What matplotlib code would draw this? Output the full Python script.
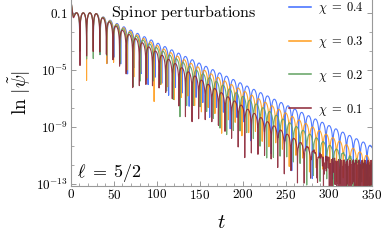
import numpy as np
import matplotlib
matplotlib.use("Agg")
import matplotlib.pyplot as plt
from matplotlib.ticker import FixedLocator, NullFormatter

plt.rcParams['mathtext.fontset'] = 'cm'
plt.rcParams['font.family'] = ['DejaVu Serif']

# quasinormal ringing, one entry per curve
chi = [0.4, 0.3, 0.2, 0.1]
omega = [0.395, 0.400, 0.405, 0.410]       # oscillation frequency
decay = [0.029, 0.0316, 0.034, 0.038]      # decades of |psi| lost per unit t
phase = [0.65, 0.55, 0.45, 0.35]
floor_level = [1e-13, 3e-13, 1.2e-12, 3e-12]  # numerical noise floor
colors = ['#3d6bff', '#ff9d1c', '#62a262', '#8c2636']

t_max = 350
ytick_vals = [1e-1, 1e-5, 1e-9, 1e-13]
ytick_text = [r'$0.1$', r'$10^{-5}$', r'$10^{-9}$', r'$10^{-13}$']
xtick_vals = [0, 50, 100, 150, 200, 250, 300, 350]

t = np.arange(0, t_max + 0.02, 0.02)

fig = plt.figure(figsize=(3.83, 2.40), dpi=100)
ax = fig.add_axes([0.185, 0.227, 0.786, 0.773])

for c, w, s, ph, fl, col in zip(chi, omega, decay, phase, floor_level, colors):
    logamp = -1.0 - s * np.maximum(t - 28, 0)
    psi = 10 ** logamp * np.cos(w * t + ph) - 0.9 * np.exp(-t / 1.0)
    psi = psi + fl * (np.cos(3.3 * t) + 0.6 * np.cos(5.1 * t))
    ax.plot(t, np.abs(psi), color=col, lw=0.8, alpha=0.9,
            label=r'$\chi\;=\;%.1f$' % c)

ax.set_yscale('log')
ax.set_xlim(0, t_max)
ax.set_ylim(10 ** -13.1, 10 ** -0.1)

ax.yaxis.set_major_locator(FixedLocator(ytick_vals))
ax.set_yticklabels(ytick_text)
minor_y = [10 ** v for v in [-1 - 4 / 3, -1 - 8 / 3, -5 - 4 / 3, -5 - 8 / 3,
                             -9 - 4 / 3, -9 - 8 / 3]]
ax.yaxis.set_minor_locator(FixedLocator(minor_y))
ax.yaxis.set_minor_formatter(NullFormatter())
ax.set_xticks(xtick_vals)
ax.set_xticklabels([r'$%d$' % v for v in xtick_vals])
ax.xaxis.set_minor_locator(FixedLocator(np.arange(0, 351, 10)))

ax.tick_params(which='both', direction='in', color='#999999', labelsize=9.5,
               right=True, top=False, pad=2)
ax.tick_params(which='major', length=3.5, width=0.7)
ax.tick_params(which='minor', length=2, width=0.6)
for side in ['left', 'bottom', 'right']:
    ax.spines[side].set_color('#999999')
    ax.spines[side].set_linewidth(0.8)
ax.spines['top'].set_visible(False)

ax.set_xlabel(r'$t$', fontsize=15, labelpad=8)
ax.set_ylabel(r'$\ln\,|\tilde{\psi}|$', fontsize=14, labelpad=2)

ax.text(0.374, 0.985, r'$\mathrm{Spinor\ perturbations}$', transform=ax.transAxes,
        ha='center', va='top', fontsize=11.5)
ax.text(0.02, 0.065, r'$\ell\;=\;5/2$', transform=ax.transAxes,
        ha='left', va='center', fontsize=13)

leg = ax.legend(loc='upper right', bbox_to_anchor=(1.01, 1.06), frameon=False,
                fontsize=9, handlelength=1.7, handletextpad=0.6,
                labelspacing=1.43)
for line in leg.get_lines():
    line.set_linewidth(1.1)
    line.set_alpha(1.0)

fig.savefig('out.png', dpi=100)
